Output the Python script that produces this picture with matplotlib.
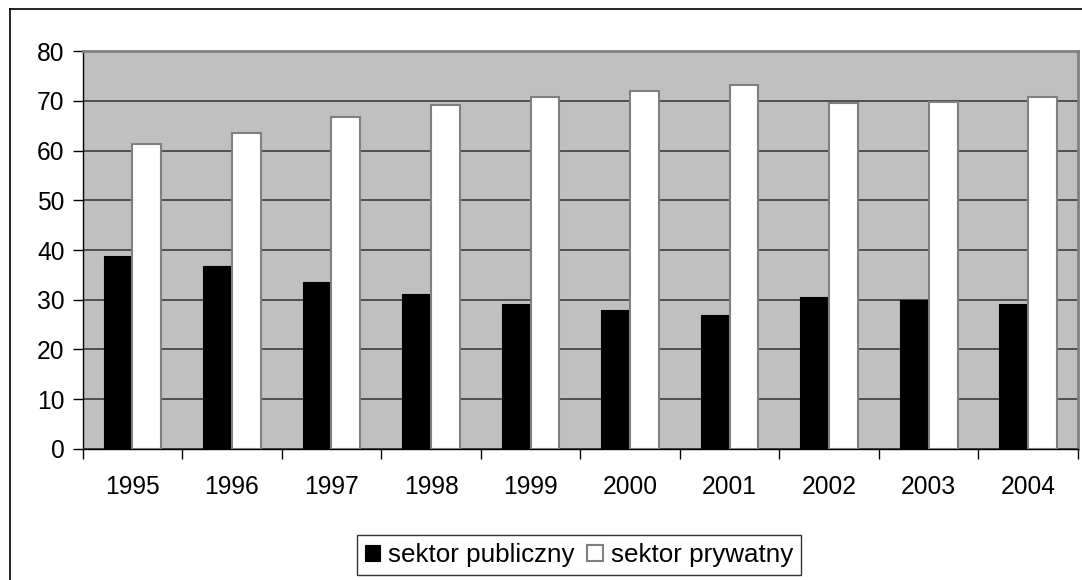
import numpy as np
import matplotlib
matplotlib.use("Agg")
import matplotlib.pyplot as plt
from matplotlib.lines import Line2D

plt.rcParams['font.family'] = ['Liberation Sans', 'DejaVu Sans']

## Data ####################################################

years = ['1995', '1996', '1997', '1998', '1999',
         '2000', '2001', '2002', '2003', '2004']
publiczny = [38.7, 36.7, 33.5, 31.1, 29.1, 27.9, 27.0, 30.6, 29.9, 29.1]
prywatny = [61.4, 63.5, 66.7, 69.1, 70.8, 71.9, 73.2, 69.5, 69.8, 70.8]

## Plot ####################################################

fig = plt.figure(figsize=(10.82, 5.80), dpi=100)
ax = fig.add_axes([0.0764, 0.2259, 0.9199, 0.6861])

x = np.arange(len(years))
w = 0.29

ax.set_facecolor('#c0c0c0')
ax.bar(x - w / 2, publiczny, w, color='black', edgecolor='black',
       linewidth=0.8, label='sektor publiczny', zorder=3)
ax.bar(x + w / 2, prywatny, w, color='white', edgecolor='#808080',
       linewidth=1.5, label='sektor prywatny', zorder=3)

ax.set_xlim(-0.5, len(years) - 0.5)
ax.set_ylim(0, 80)
ax.set_yticks(range(0, 81, 10))
ax.yaxis.grid(True, color='#3c3c3c', linewidth=1.2, zorder=1)
ax.set_axisbelow(True)

# category ticks on boundaries, labels centred
ax.set_xticks(np.arange(-0.5, len(years)), minor=False)
ax.set_xticklabels([])
ax.set_xticks(x, minor=True)
ax.set_xticklabels(years, minor=True)
ax.tick_params(axis='x', which='major', direction='out', length=7,
               width=1, color='black')
ax.tick_params(axis='x', which='minor', length=0, pad=19, labelsize=17.7)
ax.tick_params(axis='y', direction='out', length=7, width=1,
               labelsize=17.7, pad=6)

for s in ['top', 'right']:
    ax.spines[s].set_color('#808080')
    ax.spines[s].set_linewidth(2)
for s in ['left', 'bottom']:
    ax.spines[s].set_color('black')
    ax.spines[s].set_linewidth(1)

leg = ax.legend(loc='center', bbox_to_anchor=(0.535, 0.043),
                bbox_transform=fig.transFigure, ncol=2, fontsize=18.7,
                frameon=True, fancybox=False, handlelength=0.6,
                handleheight=0.6, handletextpad=0.3, columnspacing=0.5,
                borderpad=0.3)
leg.get_frame().set_edgecolor('black')
leg.get_frame().set_linewidth(1)

# outer chart border (top and left visible)
fig.add_artist(Line2D([10 / 1082, 1], [1 - 9 / 580, 1 - 9 / 580],
                      transform=fig.transFigure, color='black', lw=1.2))
fig.add_artist(Line2D([10 / 1082, 10 / 1082], [0, 1 - 9 / 580],
                      transform=fig.transFigure, color='black', lw=1.2))

fig.savefig('out.png', dpi=100)
